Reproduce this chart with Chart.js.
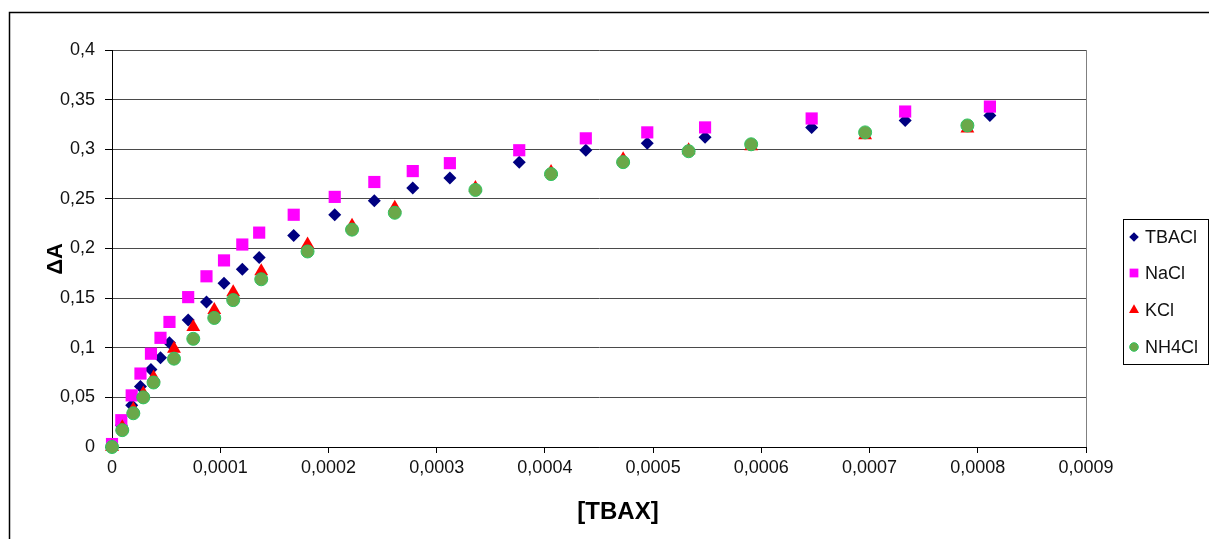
<!DOCTYPE html>
<html>
<head>
<meta charset="utf-8">
<script src="https://cdn.jsdelivr.net/npm/chart.js@4.4.1/dist/chart.umd.min.js"></script>
<style>
  html, body { margin: 0; padding: 0; background: #fff; }
  #chart { display: block; }
</style>
</head>
<body>
<canvas id="chart" width="1209" height="539"></canvas>
<script>
// concentrations used for TBACl and NaCl
var concA = [0, 0.0000086, 0.0000182, 0.0000263, 0.000036, 0.0000448, 0.0000531, 0.0000704,
  0.0000873, 0.0001035, 0.0001204, 0.000136, 0.0001679, 0.0002058, 0.0002424, 0.0002779,
  0.0003122, 0.0003763, 0.0004378, 0.0004946, 0.000548, 0.0006465, 0.0007329, 0.0008112];
var tbacl = [0, 0.022, 0.042, 0.061, 0.078, 0.09, 0.105, 0.128, 0.146, 0.165, 0.179, 0.191,
  0.213, 0.234, 0.248, 0.261, 0.271, 0.287, 0.299, 0.306, 0.312, 0.322, 0.329, 0.334];
var nacl = [0.003, 0.027, 0.052, 0.074, 0.094, 0.11, 0.126, 0.151, 0.172, 0.188, 0.204, 0.216,
  0.234, 0.252, 0.267, 0.278, 0.286, 0.299, 0.311, 0.317, 0.322, 0.331, 0.338, 0.343];

// concentrations used for KCl and NH4Cl
var concB = [0, 0.0000095, 0.0000197, 0.0000289, 0.0000384, 0.0000573, 0.0000751, 0.0000945,
  0.000112, 0.0001379, 0.0001807, 0.0002218, 0.0002613, 0.0003358, 0.0004057, 0.0004723,
  0.0005328, 0.0005906, 0.0006959, 0.0007904];
var kcl = [0, 0.02, 0.038, 0.054, 0.07, 0.099, 0.121, 0.138, 0.156, 0.177, 0.204, 0.223,
  0.241, 0.261, 0.277, 0.29, 0.299, 0.303, 0.314, 0.321];
var nh4cl = [0, 0.017, 0.034, 0.05, 0.065, 0.089, 0.109, 0.13, 0.148, 0.169, 0.197, 0.219,
  0.236, 0.259, 0.275, 0.287, 0.298, 0.305, 0.317, 0.324];

var yTicks = ["0", "0,05", "0,1", "0,15", "0,2", "0,25", "0,3", "0,35", "0,4"];
var xTicks = ["0", "0,0001", "0,0002", "0,0003", "0,0004", "0,0005", "0,0006", "0,0007", "0,0008", "0,0009"];

function pts(xs, ys) {
  return xs.map(function (x, i) { return { x: x, y: ys[i] }; });
}

var series = [
  { label: "TBACl", data: pts(concA, tbacl), pointStyle: "rectRot", pointRadius: 6.5,
    backgroundColor: "#000080", borderColor: "#000080", borderWidth: 0, order: 3, lr: 4.8 },
  { label: "NaCl", data: pts(concA, nacl), pointStyle: "rect", pointRadius: 8.6,
    backgroundColor: "#ff00ff", borderColor: "#ff00ff", borderWidth: 0, order: 2, lr: 6.2 },
  { label: "KCl", data: pts(concB, kcl), pointStyle: "triangle", pointRadius: 8,
    backgroundColor: "#ff0000", borderColor: "#ff0000", borderWidth: 0, order: 1, lr: 5.8 },
  { label: "NH4Cl", data: pts(concB, nh4cl), pointStyle: "circle", pointRadius: 6.5,
    backgroundColor: "#6aa84a", borderColor: "#2fc460", borderWidth: 1, order: 0, lr: 4.3 }
];

var extras = {
  id: "extras",
  afterDraw: function (chart) {
    var ctx = chart.ctx;
    var a = chart.chartArea;
    ctx.save();
    // right edge of the plot area
    ctx.strokeStyle = "#808080";
    ctx.lineWidth = 1;
    ctx.beginPath();
    ctx.moveTo(Math.round(a.right) + 0.5, a.top);
    ctx.lineTo(Math.round(a.right) + 0.5, a.bottom);
    ctx.stroke();

    // outer frame (only left and top are inside the picture)
    ctx.strokeStyle = "#000";
    ctx.lineWidth = 1.5;
    ctx.beginPath();
    ctx.moveTo(9.5, 539);
    ctx.lineTo(9.5, 12.5);
    ctx.lineTo(1209, 12.5);
    ctx.stroke();

    // axis titles
    ctx.fillStyle = "#000";
    ctx.textAlign = "center";
    ctx.textBaseline = "middle";
    ctx.font = "bold 24px 'Liberation Sans', Arial, sans-serif";
    ctx.fillText("[TBAX]", 618, 512);
    ctx.translate(56, 259);
    ctx.rotate(-Math.PI / 2);
    ctx.font = "bold 22px 'Liberation Sans', Arial, sans-serif";
    ctx.fillText("ΔA", 0, 0);
    ctx.restore();

    // legend
    ctx.save();
    ctx.strokeStyle = "#000";
    ctx.lineWidth = 1;
    ctx.strokeRect(1123.5, 219.5, 85, 145);
    ctx.font = "18px 'Liberation Sans', Arial, sans-serif";
    ctx.textAlign = "left";
    ctx.textBaseline = "middle";
    var rows = [237, 273, 310, 347];
    series.forEach(function (s, i) {
      ctx.fillStyle = s.backgroundColor;
      ctx.strokeStyle = s.borderColor;
      ctx.lineWidth = s.borderWidth;
      Chart.helpers.drawPoint(ctx, { pointStyle: s.pointStyle, radius: s.lr, rotation: 0, borderWidth: s.borderWidth }, 1134, rows[i]);
      ctx.fillStyle = "#111";
      ctx.fillText(s.label, 1145, rows[i] + 1);
    });
    ctx.restore();
  }
};

new Chart(document.getElementById("chart").getContext("2d"), {
  type: "scatter",
  data: {
    datasets: series.map(function (s) {
      return {
        label: s.label,
        data: s.data,
        pointStyle: s.pointStyle,
        pointRadius: s.pointRadius,
        pointHoverRadius: s.pointRadius,
        backgroundColor: s.backgroundColor,
        borderColor: s.borderColor,
        borderWidth: s.borderWidth,
        order: s.order,
        clip: false
      };
    })
  },
  options: {
    responsive: false,
    animation: false,
    events: [],
    layout: { padding: { top: 50, right: 123, left: 0, bottom: 0 } },
    plugins: { legend: { display: false }, tooltip: { enabled: false } },
    scales: {
      x: {
        type: "linear",
        min: 0,
        max: 0.0009,
        afterFit: function (s) { s.height = 92; },
        afterBuildTicks: function (s) {
          s.ticks = xTicks.map(function (t, i) { return { value: i * 0.0001 }; });
        },
        ticks: {
          autoSkip: false,
          maxRotation: 0,
          padding: 4,
          color: "#111",
          font: { family: "'Liberation Sans Narrow', 'Arial Narrow', 'Liberation Sans', sans-serif", size: 18 },
          callback: function (v, i) { return xTicks[i]; }
        },
        grid: { drawOnChartArea: false, drawTicks: true, tickLength: 6, tickColor: "#000" },
        border: { color: "#000", width: 1 }
      },
      y: {
        min: 0,
        max: 0.4,
        afterFit: function (s) { s.width = 112; },
        afterBuildTicks: function (s) {
          s.ticks = yTicks.map(function (t, i) { return { value: i * 0.05 }; });
        },
        ticks: {
          padding: 10,
          color: "#111",
          font: { family: "'Liberation Sans', Arial, sans-serif", size: 18 },
          callback: function (v, i) { return yTicks[i]; }
        },
        grid: { color: "#4a4a4a", lineWidth: 1, tickLength: 7, tickColor: "#000" },
        border: { color: "#000", width: 1 }
      }
    }
  },
  plugins: [extras]
});
</script>
</body>
</html>
